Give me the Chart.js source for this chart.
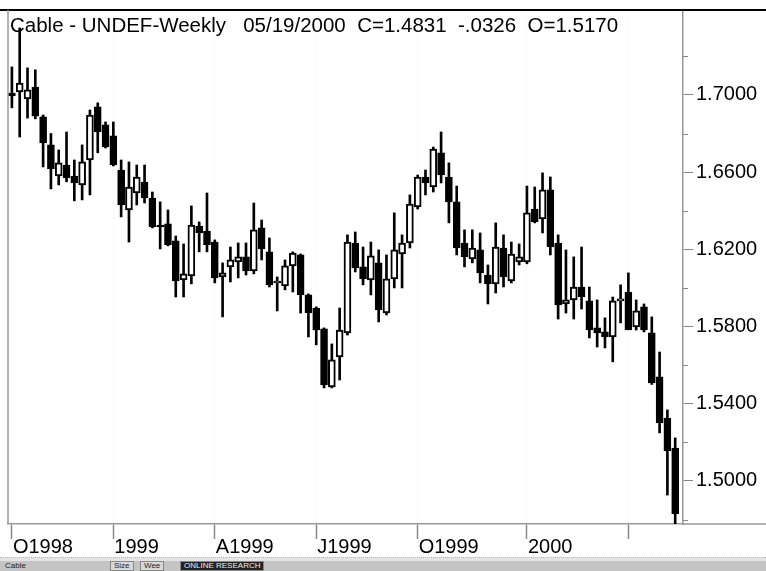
<!DOCTYPE html>
<html>
<head>
<meta charset="utf-8">
<script src="https://cdn.jsdelivr.net/npm/chart.js@4.4.0/dist/chart.umd.min.js"></script>
<style>
  html, body { margin: 0; padding: 0; background: #fff; }
  #wrap { position: relative; width: 766px; height: 571px; overflow: hidden; }
  #chart { position: absolute; left: 0; top: 0; }
  #scroll { position: absolute; left: 0; top: 557px; width: 766px; height: 3px; background: #e4e4e4; border-top: 1px dotted #b8b8b8; }
  #status { position: absolute; left: 0; top: 561px; width: 766px; height: 10px; background: #c4c4c4;
            font: 8px "Liberation Sans", Arial, sans-serif; color: #222; line-height: 10px; }
  #status span { position: absolute; top: 0; padding: 0 3px; }
  #status .tab { border: 1px solid #888; line-height: 8px; background: #d8d8d8; }
  #status .dark { background: #222; color: #eee; }
</style>
</head>
<body>
<div id="wrap">
  <canvas id="chart" width="766" height="556"></canvas>
  <div id="scroll"></div>
  <div id="status">
    <span style="left:2px">Cable</span>
    <span class="tab" style="left:110px">Size</span>
    <span class="tab" style="left:140px">Wee</span>
    <span class="tab dark" style="left:180px">ONLINE RESEARCH</span>
  </div>
</div>
<script>
var title = 'Cable - UNDEF-Weekly   05/19/2000  C=1.4831  -.0326  O=1.5170';
var firstWeek = '1998-10-02';

// weekly OHLC
var open = [1.7010, 1.7016, 1.6979, 1.7041, 1.6886, 1.6741, 1.6580, 1.6637, 1.6580, 1.6534,
            1.6663, 1.6938, 1.6845, 1.6788, 1.6611, 1.6404, 1.6492, 1.6549, 1.6466, 1.6326,
            1.6332, 1.6244, 1.6041, 1.6062, 1.6321, 1.6295, 1.6238, 1.6057, 1.6109, 1.6135,
            1.6161, 1.6088, 1.6311, 1.6187, 1.6026, 1.6010, 1.6114, 1.6171, 1.5964, 1.5896,
            1.5788, 1.5487, 1.5643, 1.5767, 1.6233, 1.6109, 1.6041, 1.6130, 1.5870, 1.6047,
            1.6176, 1.6233, 1.6420, 1.6575, 1.6523, 1.6700, 1.6575, 1.6446, 1.6233, 1.6150,
            1.6197, 1.6067, 1.6021, 1.6207, 1.6036, 1.6135, 1.6135, 1.6409, 1.6358, 1.6508,
            1.6233, 1.5917, 1.5938, 1.6005, 1.5933, 1.5793, 1.5772, 1.5746, 1.5933, 1.5979,
            1.5798, 1.5902, 1.5767, 1.5539, 1.5326, 1.5170];
var high = [1.7145, 1.7347, 1.7140, 1.7130, 1.6896, 1.6800, 1.6715, 1.6808, 1.6663, 1.6741,
            1.6922, 1.6959, 1.6860, 1.6860, 1.6663, 1.6653, 1.6637, 1.6637, 1.6497, 1.6446,
            1.6404, 1.6269, 1.6228, 1.6425, 1.6342, 1.6492, 1.6249, 1.6130, 1.6212, 1.6233,
            1.6233, 1.6440, 1.6352, 1.6259, 1.6057, 1.6145, 1.6187, 1.6176, 1.5969, 1.5902,
            1.5793, 1.5710, 1.5896, 1.6275, 1.6290, 1.6212, 1.6238, 1.6197, 1.6171, 1.6389,
            1.6275, 1.6482, 1.6585, 1.6611, 1.6730, 1.6808, 1.6648, 1.6528, 1.6301, 1.6301,
            1.6285, 1.6119, 1.6337, 1.6275, 1.6238, 1.6228, 1.6528, 1.6523, 1.6596, 1.6575,
            1.6275, 1.6197, 1.6161, 1.6212, 1.6005, 1.5938, 1.5845, 1.5953, 1.6016, 1.6078,
            1.5938, 1.5917, 1.5850, 1.5668, 1.5368, 1.5223];
var low = [1.6933, 1.6782, 1.6880, 1.6876, 1.6627, 1.6513, 1.6534, 1.6550, 1.6451, 1.6456,
           1.6482, 1.6700, 1.6725, 1.6632, 1.6368, 1.6238, 1.6430, 1.6440, 1.6311, 1.6202,
           1.6218, 1.5953, 1.5953, 1.6021, 1.6187, 1.6187, 1.6026, 1.5850, 1.6031, 1.6052,
           1.6067, 1.6073, 1.6145, 1.6005, 1.5881, 1.5990, 1.5979, 1.5870, 1.5746, 1.5705,
           1.5482, 1.5482, 1.5523, 1.5756, 1.6083, 1.6016, 1.5964, 1.5824, 1.5860, 1.6000,
           1.6000, 1.6207, 1.6409, 1.6482, 1.6497, 1.6544, 1.6337, 1.6171, 1.6109, 1.6130,
           1.6026, 1.5917, 1.5974, 1.6005, 1.6026, 1.6119, 1.6125, 1.6337, 1.6285, 1.6171,
           1.5839, 1.5870, 1.5839, 1.5891, 1.5741, 1.5694, 1.5689, 1.5617, 1.5819, 1.5819,
           1.5782, 1.5772, 1.5500, 1.5249, 1.4927, 1.4762];
var close = [1.6995, 1.7062, 1.7026, 1.6890, 1.6751, 1.6617, 1.6648, 1.6570, 1.6544, 1.6653,
             1.6896, 1.6808, 1.6730, 1.6637, 1.6430, 1.6523, 1.6575, 1.6466, 1.6316, 1.6316,
             1.6223, 1.6036, 1.6073, 1.6326, 1.6285, 1.6223, 1.6052, 1.6078, 1.6145, 1.6161,
             1.6088, 1.6301, 1.6202, 1.6016, 1.6036, 1.6114, 1.6181, 1.5964, 1.5870, 1.5782,
             1.5497, 1.5627, 1.5782, 1.6238, 1.6104, 1.6047, 1.6166, 1.5886, 1.6047, 1.6197,
             1.6233, 1.6435, 1.6575, 1.6544, 1.6720, 1.6585, 1.6446, 1.6207, 1.6161, 1.6207,
             1.6078, 1.6021, 1.6212, 1.6057, 1.6176, 1.6161, 1.6389, 1.6342, 1.6508, 1.6212,
             1.5912, 1.5938, 1.6005, 1.5953, 1.5782, 1.5767, 1.5746, 1.5933, 1.5943, 1.5782,
             1.5881, 1.5782, 1.5508, 1.5301, 1.5155, 1.4831];

var xTickIdx = [0, 13, 26, 39, 52, 66, 79];
var xTickLabels = ['O1998', '1999', 'A1999', 'J1999', 'O1999', '2000', ''];
var yMajor = [1.50, 1.54, 1.58, 1.62, 1.66, 1.70];
var yMinor = [1.48, 1.52, 1.56, 1.60, 1.64, 1.68, 1.72];
var yMin = 1.4777, yMax = 1.7440;

var font = '"Liberation Sans", Arial, sans-serif';

function weekLabels(start, n) {
    var d = new Date(start + 'T00:00:00Z');
    var out = [];
    for (var i = 0; i < n; i++) {
        var t = new Date(d.getTime() + i * 7 * 86400000);
        var mm = ('0' + (t.getUTCMonth() + 1)).slice(-2);
        var dd = ('0' + t.getUTCDate()).slice(-2);
        out.push(mm + '/' + dd + '/' + t.getUTCFullYear());
    }
    return out;
}
var weeks = weekLabels(firstWeek, close.length);

var bodyColors = [];
for (var i = 0; i < close.length; i++) {
    bodyColors.push(close[i] >= open[i] ? '#ffffff' : '#000000');
}

// frame lines, minor y ticks and the header text
var framePlugin = {
    id: 'frame',
    afterDraw: function (chart) {
        var ctx = chart.ctx, a = chart.chartArea, y = chart.scales.y;
        ctx.save();
        ctx.strokeStyle = '#000';
        ctx.lineWidth = 2;
        ctx.beginPath();
        ctx.moveTo(0, a.top);
        ctx.lineTo(chart.width, a.top);
        ctx.stroke();

        ctx.strokeStyle = '#999';
        ctx.lineWidth = 1.5;
        ctx.beginPath();
        ctx.moveTo(a.left, a.top);
        ctx.lineTo(a.left, a.bottom);
        ctx.moveTo(a.right, a.bottom);
        ctx.lineTo(chart.width, a.bottom);
        ctx.stroke();

        ctx.lineWidth = 1;
        ctx.strokeStyle = '#888';
        ctx.beginPath();
        yMinor.forEach(function (v) {
            var py = Math.round(y.getPixelForValue(v)) + 0.5;
            ctx.moveTo(a.right, py);
            ctx.lineTo(a.right + 5, py);
        });
        ctx.stroke();

        ctx.fillStyle = '#000';
        ctx.font = '20.5px ' + font;
        ctx.textBaseline = 'alphabetic';
        ctx.fillText(title, a.left + 2, a.top + 22);
        ctx.restore();
    }
};

var ctx = document.getElementById('chart').getContext('2d');
var chart = new Chart(ctx, {
    type: 'bar',
    data: {
        labels: weeks,
        datasets: [{
            label: 'body',
            data: open.map(function (o, i) { return { x: i, y: [o, close[i]] }; }),
            backgroundColor: bodyColors,
            borderColor: '#000',
            borderWidth: 2,
            borderSkipped: false,
            barThickness: 7,
            grouped: false,
            order: 0
        }, {
            label: 'wick',
            data: low.map(function (l, i) { return { x: i, y: [l, high[i]] }; }),
            backgroundColor: '#000',
            borderWidth: 0,
            barThickness: 2,
            grouped: false,
            order: 1
        }]
    },
    options: {
        responsive: false,
        animation: false,
        layout: { padding: { left: 8, top: 10, right: 0, bottom: 0 } },
        plugins: { legend: { display: false }, tooltip: { enabled: false } },
        scales: {
            x: {
                type: 'linear',
                min: -0.5,
                max: close.length,
                offset: false,
                afterFit: function (s) { s.height = 32; s.paddingLeft = 0; s.paddingRight = 0; },
                afterBuildTicks: function (s) {
                    s.ticks = xTickIdx.map(function (i) { return { value: i }; });
                },
                grid: {
                    offset: false,
                    color: '#e0e0e0',
                    lineWidth: 1,
                    tickLength: 15,
                    tickColor: '#888',
                    tickWidth: 1.5
                },
                border: { display: true, color: '#999', width: 1.5, dash: [1, 7] },
                ticks: {
                    autoSkip: false,
                    maxRotation: 0,
                    align: 'start',
                    labelOffset: 1,
                    padding: -4,
                    color: '#000',
                    font: { family: font, size: 20 },
                    callback: function (v) {
                        var k = xTickIdx.indexOf(v);
                        return k < 0 ? null : xTickLabels[k];
                    }
                }
            },
            y: {
                type: 'linear',
                position: 'right',
                min: yMin,
                max: yMax,
                afterFit: function (s) { s.width = 83; s.paddingTop = 0; s.paddingBottom = 0; },
                afterBuildTicks: function (s) {
                    s.ticks = yMajor.map(function (v) { return { value: v }; });
                },
                grid: {
                    drawOnChartArea: false,
                    tickLength: 10,
                    tickColor: '#888',
                    tickWidth: 1
                },
                border: { display: true, color: '#999', width: 1.5 },
                ticks: {
                    padding: 3,
                    color: '#000',
                    font: { family: font, size: 20 },
                    callback: function (v) { return Number(v).toFixed(4); }
                }
            }
        }
    },
    plugins: [framePlugin]
});
</script>
</body>
</html>
